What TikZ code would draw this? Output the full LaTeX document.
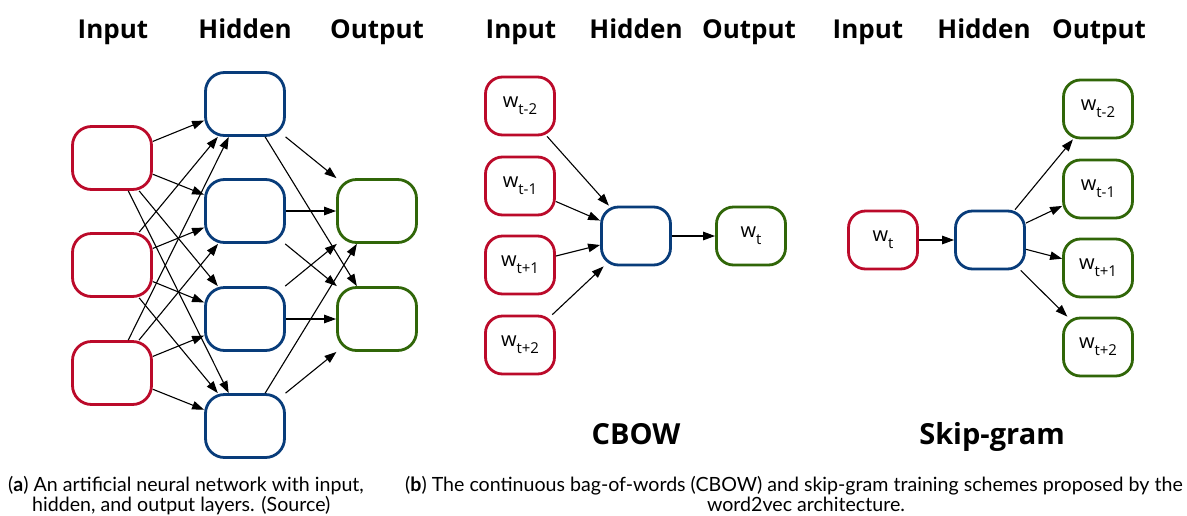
\documentclass[tikz,border=0pt]{standalone}
\usepackage{fontspec}
\setmainfont{Lato}
\newfontfamily\headfont{Open Sans}
\usetikzlibrary{arrows.meta}
\definecolor{myred}{RGB}{187,10,42}
\definecolor{myblue}{RGB}{8,60,122}
\definecolor{mygreen}{RGB}{48,102,8}
% word with a lowered index, as in w_{t-2}
\newcommand{\wsub}[1]{w\raisebox{-7pt}{\fontsize{15}{15}\selectfont #1}}

\begin{document}
\begin{tikzpicture}[x=1pt, y=-1pt,
    unit/.style={draw, line width=2.8pt, rounded corners=19pt, fill=white,
      font=\headfont\fontsize{20}{24}\selectfont, inner sep=0pt},
    bigunit/.style={unit, minimum width=79pt, minimum height=63pt},
    smallunit/.style={unit, minimum width=69pt, minimum height=58pt, rounded corners=17pt},
    inp/.style={draw=myred}, hid/.style={draw=myblue}, outp/.style={draw=mygreen},
    head/.style={anchor=base, inner sep=0pt, font=\headfont\bfseries\fontsize{26}{30}\selectfont},
    title/.style={head, font=\headfont\bfseries\fontsize{29}{34}\selectfont},
    capt/.style={anchor=base west, inner sep=0pt, font=\fontsize{19.6}{22}\selectfont},
    arr/.style={-{Triangle[length=12pt,width=8.5pt]}, line width=1.1pt}]
  \useasboundingbox (0,0) rectangle (1187,515);

  % (a) fully connected network
  \node[head] at (113,38) {Input};
  \node[head] at (245,38) {Hidden};
  \node[head] at (377,38) {Output};
  \foreach \i/\y in {1/158,2/265,3/373}
    \node[bigunit, inp] (in\i) at (112,\y) {};
  \foreach \j/\y in {1/104,2/211,3/319,4/426}
    \node[bigunit, hid] (hid\j) at (245,\y) {};
  \foreach \k/\y in {1/211,2/319}
    \node[bigunit, outp] (out\k) at (377,\y) {};
  \foreach \i in {1,2,3}
    \foreach \j in {1,...,4}
      \draw[arr] (in\i) -- (hid\j);
  \foreach \j in {1,...,4}
    \foreach \k in {1,2}
      \draw[arr] (hid\j) -- (out\k);

  % (b) CBOW
  \node[head] at (521,38) {Input};
  \node[head] at (636,38) {Hidden};
  \node[head] at (749,38) {Output};
  \foreach \n/\s/\y in {1/t-2/106,2/t-1/186,3/t+1/265,4/t+2/345}
    \node[smallunit, inp] (cin\n) at (520,\y) {\wsub{\s}};
  \node[smallunit, hid] (chid) at (636,236) {};
  \node[smallunit, outp] (cout) at (751,236) {\wsub{t}};
  \foreach \n in {1,...,4}
    \draw[arr] (cin\n) -- (chid);
  \draw[arr] (chid) -- (cout);
  \node[title] at (636,444) {CBOW};

  % (b) skip-gram
  \node[head] at (868,38) {Input};
  \node[head] at (984,38) {Hidden};
  \node[head] at (1099,38) {Output};
  \node[smallunit, inp] (sin) at (883,240) {\wsub{t}};
  \node[smallunit, hid] (shid) at (990,240) {};
  \foreach \n/\s/\y in {1/t-2/109,2/t-1/189,3/t+1/268,4/t+2/347}
    \node[smallunit, outp] (sout\n) at (1098,\y) {\wsub{\s}};
  \draw[arr] (sin) -- (shid);
  \foreach \n in {1,...,4}
    \draw[arr] (shid) -- (sout\n);
  \node[title] at (992,444) {Skip-gram};

  % captions
  \node[capt] (capa1) at (8,491) {(\textbf{a}) An artificial neural network with input,};
  \node[capt] (capa2) at (32,511) {hidden, and output layers. (Source)};
  \node[capt] (capb1) at (405,491) {(\textbf{b}) The continuous bag-of-words (CBOW) and skip-gram training schemes proposed by the};
  \node[capt, anchor=base] (capb2) at (806,511) {word2vec architecture.};
\end{tikzpicture}
\end{document}
